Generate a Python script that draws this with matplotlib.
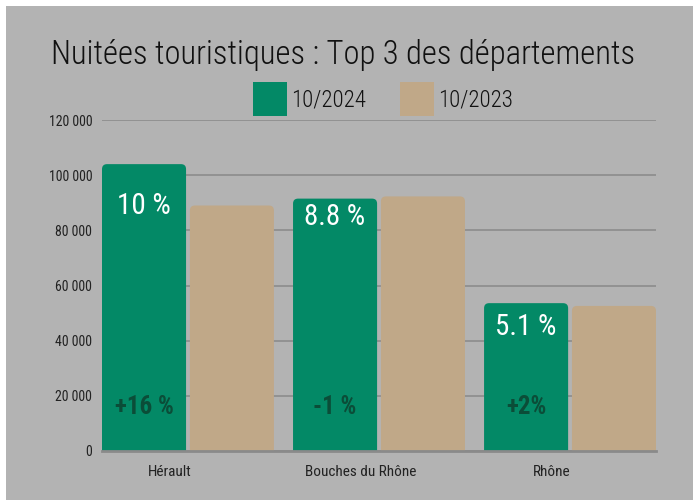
import numpy as np
import matplotlib
matplotlib.use("Agg")
import matplotlib.pyplot as plt
from matplotlib import font_manager
from matplotlib.patches import FancyBboxPatch, Rectangle
from matplotlib.ticker import FuncFormatter

# police étroite : on prend la première disponible
installed = {f.name for f in font_manager.fontManager.ttflist}
narrow = next((n for n in ["Roboto Condensed", "Liberation Sans Narrow", "Open Sans Condensed",
                           "Noto Sans Condensed"] if n in installed), None)
if narrow:
    plt.rcParams['font.family'] = [narrow, 'DejaVu Sans']
else:
    plt.rcParams['font.family'] = ['DejaVu Sans']
    plt.rcParams['font.stretch'] = 'condensed'

# --- données ---
departements = ["Hérault", "Bouches du Rhône", "Rhône"]
nuitees_2024 = [104000, 91500, 53600]
nuitees_2023 = [89000, 92300, 52600]
part_2024 = ["10 %", "8.8 %", "5.1 %"]
evolution = ["+16 %", "-1 %", "+2%"]
series = ["10/2024", "10/2023"]

# position verticale des parts (mise en page)
part_y = [88800, 84800, 45000]

VERT = "#038966"
BEIGE = "#c0a888"
FOND = "#b3b3b3"
VERT_FONCE = "#0b4d38"

W, H = 693, 500
fig = plt.figure(figsize=(W/100, H/100), dpi=100)
fig.patch.set_facecolor("white")
fig.patches.append(Rectangle((6/W, 0), 1, 1 - 6/H, transform=fig.transFigure,
                             facecolor=FOND, edgecolor="none", zorder=-10))

left, right, bottom, top = 102/W, 656/W, 1 - 451/H, 1 - 120/H
ax = fig.add_axes([left, bottom, right - left, top - bottom])
ax.set_facecolor("none")
ax.set_zorder(1)

x = np.arange(len(departements))
bw = 0.44
off = 0.23
ax.set_xlim(-0.45, len(departements) - 0.55)
ax.set_ylim(0, 120000)

# barres aux coins arrondis
px_x = (right - left) * W / 2.9
px_y = (top - bottom) * H / 120000
r_px = 5
handles = []
for vals, dx, col in [(nuitees_2024, -off, VERT), (nuitees_2023, off, BEIGE)]:
    for xi, v in zip(x, vals):
        p = FancyBboxPatch((xi + dx - bw/2, -5000), bw, v + 5000,
                           boxstyle=f"round,pad=0,rounding_size={r_px/px_x}",
                           mutation_aspect=px_x/px_y,
                           facecolor=col, edgecolor="none", zorder=2)
        ax.add_patch(p)
    handles.append(p)

# textes dans les barres vertes
for xi, t, yy in zip(x, part_2024, part_y):
    ax.text(xi - off, yy, t, color="white", fontsize=21, ha="center", va="center", zorder=3)
for xi, t in zip(x, evolution):
    ax.text(xi - off, 16000, t, color=VERT_FONCE, fontsize=18, fontweight="bold",
            ha="center", va="center", zorder=3)

# axes
ax.set_yticks(np.arange(0, 120001, 20000))
ax.yaxis.set_major_formatter(FuncFormatter(lambda v, _: f"{int(v):,}".replace(",", " ")))
ax.grid(axis="y", color="#8c8c8c", linewidth=1.2, zorder=1)
ax.set_axisbelow(True)
for s in ["top", "right", "left"]:
    ax.spines[s].set_visible(False)
ax.spines["bottom"].set_color("#8a8a8a")
ax.spines["bottom"].set_linewidth(2)
ax.spines["bottom"].set_zorder(4)
ax.set_xticks(x - 0.094)
ax.set_xticklabels(departements)
ax.tick_params(axis="y", length=0, pad=7, labelsize=10, labelcolor="#222222")
ax.tick_params(axis="x", length=0, pad=10, labelsize=11, labelcolor="#222222")

# titre et légende
fig.text(51/W, 1 - 64/H, "Nuitées touristiques : Top 3 des départements",
         fontsize=23.5, fontweight="light", color="#111111", ha="left", va="baseline")
fig.legend(handles, series, loc="center left", bbox_to_anchor=(253/W, 1 - 99/H),
           ncol=2, frameon=False, handlelength=1.48, handleheight=1.9,
           handletextpad=0.2, columnspacing=1.45, borderpad=0, borderaxespad=0,
           labelcolor="#111111", prop={"weight": "light", "size": 16.5})

fig.savefig("out.png", dpi=100, facecolor=fig.get_facecolor())
